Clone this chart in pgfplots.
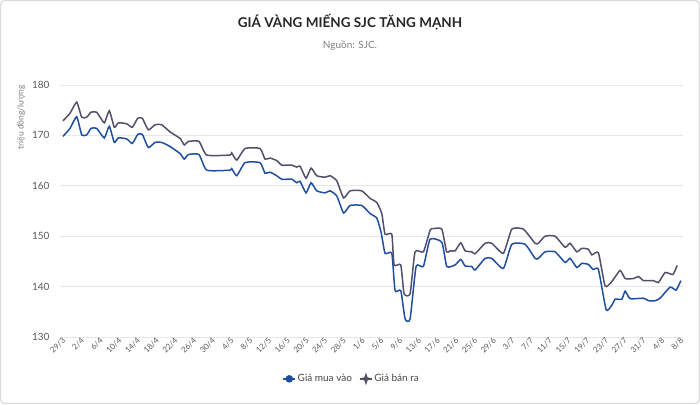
\documentclass[border=0pt]{standalone}
\usepackage{pgfplots}
\pgfplotsset{compat=1.18}
\usepackage{pgfplotstable}
\usepackage{fontspec}
\setmainfont{Lato}
\definecolor{buyc}{HTML}{1F4E9E}
\definecolor{sellc}{HTML}{524F6B}
\definecolor{tickc}{HTML}{595959}
\definecolor{subc}{HTML}{7F7F7F}
\definecolor{gridc}{HTML}{E6E6E6}
\definecolor{borderc}{HTML}{DADADA}

\pgfplotstableread{
d v
0 172.9
1.5 174.4
2.93 176.6
4.0 173.6
5.06 173.6
5.98 174.6
7.2 174.6
8.82 172.5
9.89 174.9
10.96 171.6
11.82 172.5
13.61 172.3
14.81 171.6
15.96 173.4
16.94 173.4
18.23 171.1
19.66 172.1
21.09 172.1
22.86 170.7
25.0 169.4
25.92 168.1
26.77 168.8
29.06 168.8
30.71 166.1
35.68 166.1
36.05 166.5
37.12 165.1
38.89 167.4
42.09 167.4
43.16 165.3
44.23 165.5
45.66 165.0
46.73 164.1
48.87 164.1
49.94 163.7
50.64 163.9
51.92 161.5
52.99 163.5
54.21 162.0
55.98 161.7
57.05 162.0
58.48 161.0
59.94 157.6
61.32 159.0
63.82 159.0
65.60 157.5
67.03 156.7
68.10 154.5
68.80 150.4
70.24 150.4
70.73 144.3
72.16 144.3
72.86 138.6
74.15 138.6
75.21 146.9
76.99 146.9
78.42 151.2
79.06 151.5
80.92 151.4
81.94 146.9
82.69 147.1
83.76 147.1
84.98 148.7
85.90 147.1
87.33 146.9
88.03 146.5
90.17 148.6
91.60 148.6
94.08 146.6
95.88 151.4
98.35 151.4
100.85 148.6
101.56 148.6
102.99 150.0
105.13 150.0
107.26 147.8
108.33 148.6
109.76 146.9
110.83 147.6
112.24 147.4
112.97 146.3
114.38 146.7
115.81 140.1
117.24 141.0
119.02 143.2
120.09 141.6
121.86 141.6
122.93 142.0
124.0 141.2
126.13 141.2
127.20 140.8
128.63 142.8
130.28 142.4
131.2 144.2
}\sell

\pgfplotstableread{
d v
0 169.8
1.5 171.4
2.93 173.7
4.0 170.1
5.06 170.1
5.98 171.4
7.2 171.4
8.82 169.5
9.89 171.8
10.96 168.6
11.82 169.5
13.61 169.3
14.81 168.4
15.96 170.2
16.94 170.2
18.23 167.6
19.66 168.6
21.09 168.6
22.86 167.8
25.0 166.4
25.92 165.3
26.77 166.2
29.06 166.2
30.71 163.1
35.68 163.1
36.05 163.4
37.12 162.0
38.89 164.6
42.09 164.6
43.16 162.5
44.23 162.7
45.66 162.0
46.73 161.3
48.87 161.3
49.94 160.6
50.64 160.9
51.92 158.6
52.99 160.6
54.21 159.0
55.98 158.6
57.05 159.0
58.48 158.0
59.94 154.6
61.32 156.1
63.82 156.1
65.60 154.5
67.03 153.6
67.95 150.8
68.80 146.6
70.24 146.6
70.94 139.2
72.16 139.2
73.08 133.6
74.15 133.6
75.43 144.0
76.99 144.0
78.42 149.4
80.92 148.8
81.99 144.0
83.76 144.3
84.98 145.4
85.90 144.1
87.33 144.0
88.03 143.3
90.17 145.6
91.60 145.6
94.08 143.6
95.88 148.4
98.72 148.4
100.85 145.6
101.56 145.6
102.99 146.9
105.13 146.9
107.26 144.8
108.33 145.6
109.76 143.8
110.83 144.6
112.24 144.4
113.25 143.4
114.38 143.4
116.03 135.4
117.24 136.3
117.95 137.5
119.38 137.5
120.09 139.1
121.15 137.6
124.0 137.7
125.06 137.2
126.50 137.2
127.56 137.7
129.70 139.9
130.98 139.3
131.99 141.2
}\buy

\begin{document}
\begin{tikzpicture}[x=1pt,y=1pt]
\draw[borderc, line width=1.2pt, rounded corners=4pt] (0.6,0.6) rectangle (699.4,403.4);
\node[font=\bfseries\fontsize{13.5}{16}\selectfont, text=black!85] at (350,382) {GIÁ VÀNG MIẾNG SJC TĂNG MẠNH};
\node[font=\fontsize{10}{12}\selectfont, text=subc] at (350,359) {Nguồn: SJC.};
\node[font=\fontsize{8.5}{10}\selectfont, text=subc, rotate=90, anchor=east] at (21,322) {triệu đồng/lượng};
\begin{axis}[
  at={(60pt,67pt)}, anchor=south west,
  scale only axis, width=623pt, height=252pt,
  xmin=-0.64, xmax=132.45, ymin=130, ymax=180,
  ytick={130,140,...,180},
  xtick={0,4,...,132},
  xticklabels={29/3,2/4,6/4,10/4,14/4,18/4,22/4,26/4,30/4,4/5,8/5,12/5,16/5,20/5,24/5,28/5,1/6,5/6,9/6,13/6,17/6,21/6,25/6,29/6,3/7,7/7,11/7,15/7,19/7,23/7,27/7,31/7,4/8,8/8},
  axis line style={draw=none},
  major tick length=0pt,
  ymajorgrids, grid style={gridc, line width=0.9pt},
  /pgf/number format/assume math mode=true,
  yticklabel style={font=\fontsize{10}{12}\selectfont, text=tickc, xshift=-7pt},
  xticklabel style={rotate=45, anchor=east, font=\fontsize{8}{9.5}\selectfont, text=tickc, yshift=-2.5pt, inner sep=1pt},
  legend style={at={(0.468,-0.166)}, anchor=center, draw=none, fill=none,
    legend columns=2, font=\fontsize{10}{12}\selectfont, text=black!72,
    /tikz/every even column/.append style={column sep=5pt}},
  legend cell align=left,
  clip=false,
]
\addplot[buyc, line width=1.5pt, smooth, tension=0.3,
  legend image code/.code={\path (0,0) -- (0.42cm,0); \fill[buyc] (0.22cm,0) circle (3pt);}]
  table[x=d,y=v]{\buy};
\addlegendentry{Giá mua vào}
\addplot[sellc, line width=1.5pt, smooth, tension=0.3,
  legend image code/.code={\path (0,0) -- (0.42cm,0); \fill[sellc] (0.22cm,4pt) -- (0.22cm+1pt,1pt) -- (0.22cm+4pt,0) -- (0.22cm+1pt,-1pt) -- (0.22cm,-4pt) -- (0.22cm-1pt,-1pt) -- (0.22cm-4pt,0) -- (0.22cm-1pt,1pt) -- cycle;}]
  table[x=d,y=v]{\sell};
\addlegendentry{Giá bán ra}
\end{axis}
\end{tikzpicture}
\end{document}
